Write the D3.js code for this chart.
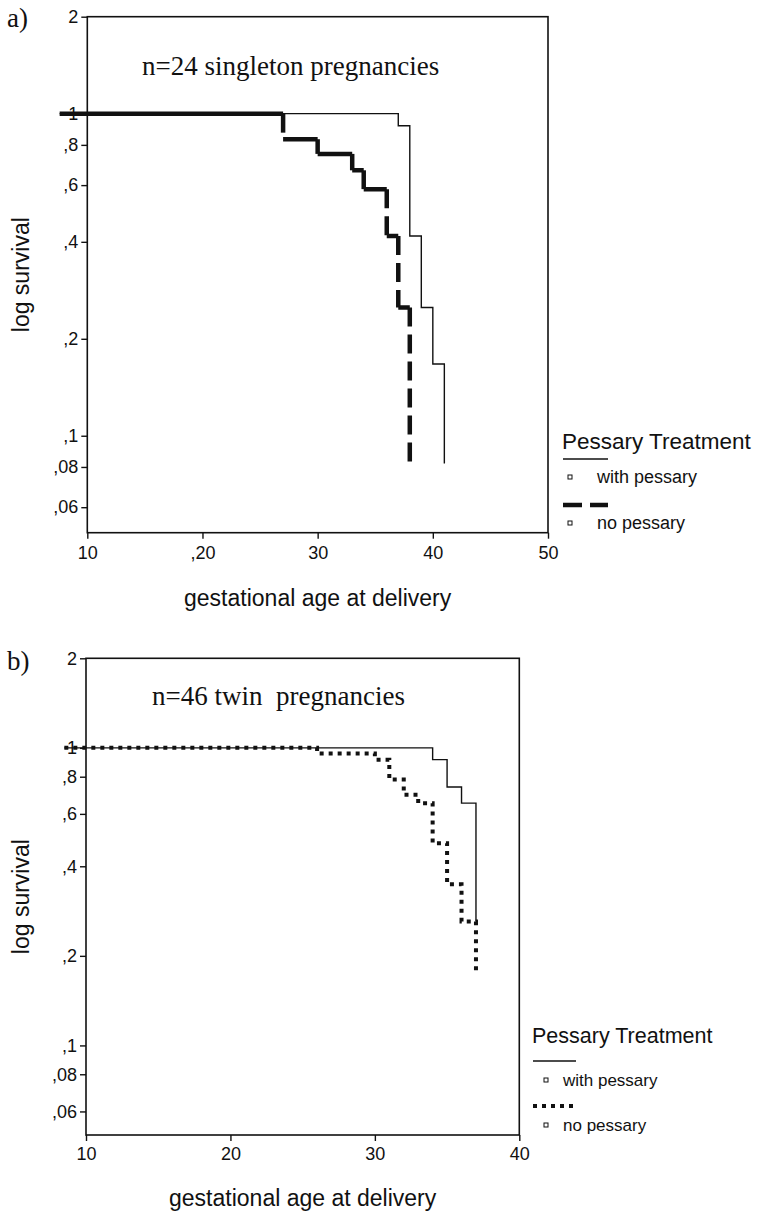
<!DOCTYPE html>
<html>
<head>
<meta charset="utf-8">
<script src="https://cdn.jsdelivr.net/npm/d3@7"></script>
<style>
  body { margin: 0; background: #fff; }
  svg text { fill: #111; }
</style>
</head>
<body>
<svg id="chart" width="762" height="1211"></svg>
<script>
// panel a: singleton pregnancies (time of event, survival after event)
var aWithTime = [7.6, 37, 38, 39, 40, 41];
var aWithSurv = [1, 0.917, 0.417, 0.25, 0.167, 0.082];
var aNoTime = [7.6, 27, 30, 33, 34, 36, 37, 38];
var aNoSurv = [1, 0.833, 0.75, 0.667, 0.583, 0.417, 0.25, 0.083];

// panel b: twin pregnancies
var bWithTime = [8.5, 34, 35, 36, 37];
var bWithSurv = [1, 0.913, 0.739, 0.652, 0.261];
var bNoTime = [8.5, 26, 30, 31, 32, 33, 34, 35, 36, 37];
var bNoSurv = [1, 0.957, 0.913, 0.783, 0.696, 0.652, 0.478, 0.348, 0.261, 0.178];

var yTicks = [2, 1, 0.8, 0.6, 0.4, 0.2, 0.1, 0.08, 0.06];
var yTickLabels = ["2", "1", ",8", ",6", ",4", ",2", ",1", ",08", ",06"];
var aXTicks = [10, 20, 30, 40, 50];
var aXTickLabels = ["10", ",20", "30", "40", "50"];
var bXTicks = [10, 20, 30, 40];
var bXTickLabels = ["10", "20", "30", "40"];
var legendNames = ["with pessary", "no pessary"];

var svg = d3.select("#chart");
var sans = "'Liberation Sans', Arial, sans-serif";
var serif = "'Liberation Serif', 'Times New Roman', serif";

function zip(t, s) {
  return t.map(function(d, i) { return [d, s[i]]; });
}

function drawPanel(p) {
  var g = svg.append("g");
  var x = p.x, y = p.y;

  // frame
  g.append("rect")
    .attr("x", x.range()[0]).attr("y", y.range()[1])
    .attr("width", x.range()[1] - x.range()[0])
    .attr("height", y.range()[0] - y.range()[1])
    .attr("fill", "none").attr("stroke", "#111").attr("stroke-width", 1.6);

  var yAxis = g.append("g")
    .attr("transform", "translate(" + x.range()[0] + ",0)")
    .call(d3.axisLeft(y).tickValues(yTicks).tickSize(6).tickSizeOuter(0).tickPadding(3)
      .tickFormat(function(d, i) { return yTickLabels[i]; }));
  var xAxis = g.append("g")
    .attr("transform", "translate(0," + y.range()[0] + ")")
    .call(d3.axisBottom(x).tickValues(p.xTicks).tickSize(6).tickSizeOuter(0).tickPadding(p.xPad)
      .tickFormat(function(d, i) { return p.xLabels[i]; }));
  [yAxis, xAxis].forEach(function(ax) {
    ax.select(".domain").remove();
    ax.selectAll("line").attr("stroke", "#111").attr("stroke-width", 1.4);
    ax.selectAll("text").attr("font-family", sans).attr("font-size", 18).attr("fill", "#111");
  });

  var line = d3.line().x(function(d) { return x(d[0]); }).y(function(d) { return y(d[1]); });

  // with pessary: thin solid step line
  g.append("path")
    .attr("d", line.curve(d3.curveStepAfter)(zip(p.withTime, p.withSurv)))
    .attr("fill", "none").attr("stroke", "#111").attr("stroke-width", 1.4);
  line.curve(d3.curveLinear);

  // no pessary
  if (p.style === "dash") {
    var hs = [], vs = [];
    for (var i = 1; i < p.noTime.length; i++) {
      hs.push([[p.noTime[i - 1], p.noSurv[i - 1]], [p.noTime[i], p.noSurv[i - 1]]]);
      vs.push([[p.noTime[i], p.noSurv[i - 1]], [p.noTime[i], p.noSurv[i]]]);
    }
    g.append("path")
      .attr("d", hs.map(function(s) { return line(s); }).join(""))
      .attr("fill", "none").attr("stroke", "#111").attr("stroke-width", 4.5);
    g.selectAll(".vseg").data(vs).enter().append("path")
      .attr("d", function(s) { return line(s); })
      .attr("fill", "none").attr("stroke", "#111").attr("stroke-width", 4.5)
      .attr("stroke-dasharray", "19,8");
  } else {
    g.append("path")
      .attr("d", line.curve(d3.curveStepAfter)(zip(p.noTime, p.noSurv)))
      .attr("fill", "none").attr("stroke", "#111").attr("stroke-width", 4)
      .attr("stroke-dasharray", "4,5");
    line.curve(d3.curveLinear);
  }

  // labels
  g.append("text").attr("x", p.tag[0]).attr("y", p.tag[1])
    .attr("font-family", serif).attr("font-size", 27).text(p.tagText);
  g.append("text").attr("x", p.title[0]).attr("y", p.title[1])
    .attr("font-family", serif).attr("font-size", 27)
    .style("white-space", "pre").text(p.titleText);
  var cy = (y.range()[0] + y.range()[1]) / 2;
  g.append("text")
    .attr("transform", "translate(29," + cy + ") rotate(-90)")
    .attr("text-anchor", "middle").attr("font-family", sans).attr("font-size", 23)
    .text("log survival");
  g.append("text")
    .attr("x", (x.range()[0] + x.range()[1]) / 2).attr("y", p.xTitleY)
    .attr("text-anchor", "middle").attr("font-family", sans).attr("font-size", 23)
    .text("gestational age at delivery");

  // legend
  var L = p.legend;
  var lg = g.append("g").attr("transform", "translate(" + L.x + "," + L.y + ")");
  lg.append("text").attr("x", 0).attr("y", 0)
    .attr("font-family", sans).attr("font-size", L.titleSize).text("Pessary Treatment");
  var rows = [
    { dy: L.row, sw: 1.4, dash: null },
    { dy: L.row + L.gap, sw: p.style === "dash" ? 4.5 : 4, dash: p.style === "dash" ? "19,8" : "4,5" }
  ];
  rows.forEach(function(r, i) {
    lg.append("line")
      .attr("x1", 1).attr("x2", L.lineW).attr("y1", r.dy).attr("y2", r.dy)
      .attr("stroke", "#111").attr("stroke-width", r.sw)
      .attr("stroke-dasharray", r.dash);
    lg.append("rect")
      .attr("x", L.sq - 2).attr("y", r.dy + L.sqDy - 2).attr("width", 4).attr("height", 4)
      .attr("fill", "#fff").attr("stroke", "#111").attr("stroke-width", 1);
    lg.append("text")
      .attr("x", L.textX).attr("y", r.dy + L.sqDy + 6)
      .attr("font-family", sans).attr("font-size", L.itemSize).text(legendNames[i]);
  });
}

drawPanel({
  x: d3.scaleLinear().domain([10, 50]).range([87.3, 548]),
  y: d3.scaleLog().domain([0.05, 2]).range([532.7, 16.7]),
  xTicks: aXTicks, xLabels: aXTickLabels, xPad: 8,
  withTime: aWithTime, withSurv: aWithSurv,
  noTime: aNoTime, noSurv: aNoSurv, style: "dash",
  tag: [7, 27], tagText: "a)",
  title: [142, 75], titleText: "n=24 singleton pregnancies",
  xTitleY: 606,
  legend: { x: 562, y: 449, titleSize: 22.5, itemSize: 18, row: 10, gap: 46,
            lineW: 46, sq: 8, sqDy: 18, textX: 35 }
});

drawPanel({
  x: d3.scaleLinear().domain([10, 40]).range([86, 519.3]),
  y: d3.scaleLog().domain([0.05, 2]).range([1135, 658.3]),
  xTicks: bXTicks, xLabels: bXTickLabels, xPad: 6,
  withTime: bWithTime, withSurv: bWithSurv,
  noTime: bNoTime, noSurv: bNoSurv, style: "dot",
  tag: [7, 670], tagText: "b)",
  title: [152, 705], titleText: "n=46 twin  pregnancies",
  xTitleY: 1206,
  legend: { x: 532, y: 1043, titleSize: 21.5, itemSize: 17, row: 18, gap: 45,
            lineW: 44, sq: 14, sqDy: 19, textX: 31 }
});
</script>
</body>
</html>
